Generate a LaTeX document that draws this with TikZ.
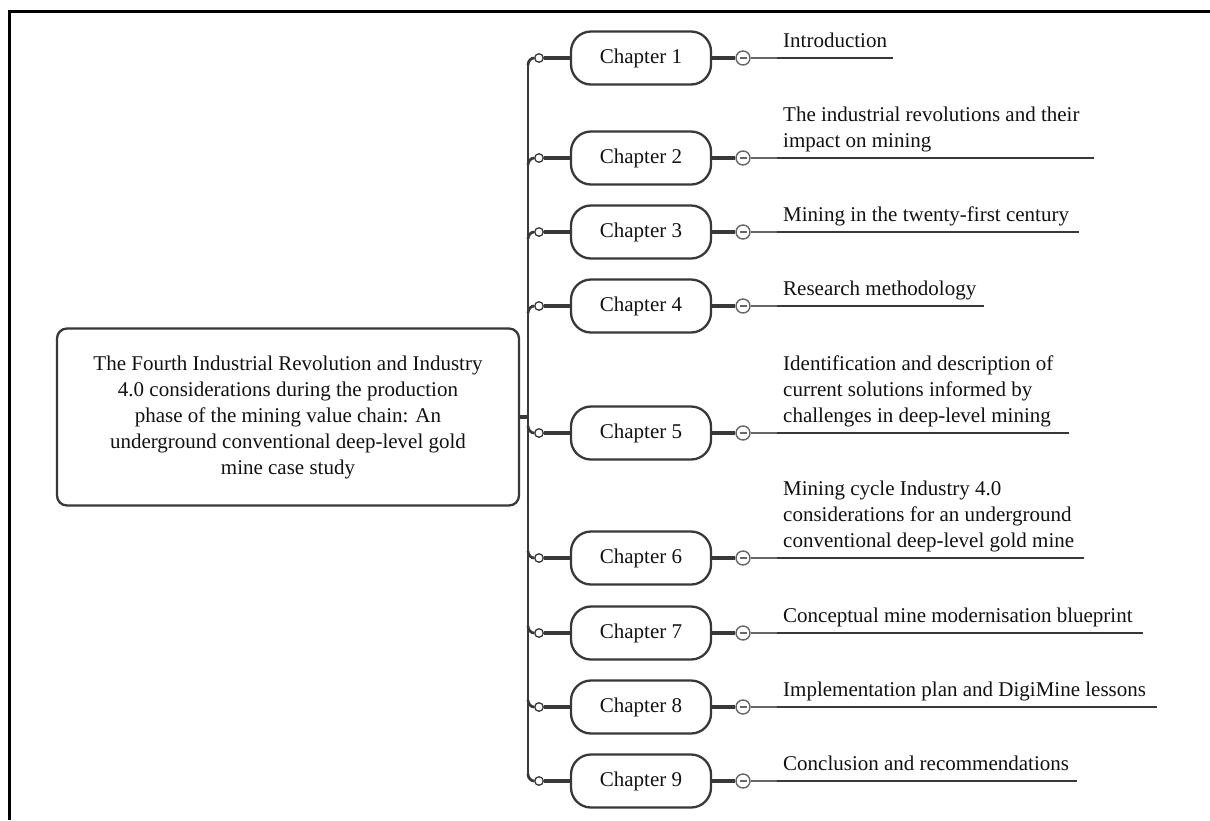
\documentclass[tikz,border=0pt]{standalone}
\usepackage{fontspec}
\setmainfont{Liberation Serif}
\definecolor{linecol}{HTML}{383838}
\definecolor{foldcol}{HTML}{666666}
\definecolor{textcol}{HTML}{111111}
\tikzset{
  txt/.style={font=\fontsize{21}{26}\selectfont, text=textcol},
  rootbox/.style={txt, draw=linecol, line width=2.3pt, rounded corners=10pt,
    minimum width=462pt, minimum height=177pt, align=center, inner sep=0pt},
  chapbox/.style={txt, draw=linecol, line width=2.3pt, rounded corners=20pt,
    minimum width=140pt, minimum height=53pt, inner sep=0pt},
  dotnode/.style={circle, draw=linecol, fill=white, minimum size=8.5pt,
    inner sep=0pt, line width=1.3pt},
  foldnode/.style={circle, draw=foldcol, fill=white, minimum size=14pt,
    inner sep=0pt, line width=1.4pt,
    path picture={\draw[foldcol, line width=1.3pt]
      ([xshift=3.5pt]path picture bounding box.west) --
      ([xshift=-3.5pt]path picture bounding box.east);}},
  topicnode/.style={txt, anchor=south west, align=left, inner xsep=6pt, inner ysep=2.2pt},
  trunkln/.style={draw=linecol, line width=2.7pt},
  connln/.style={draw=linecol, line width=3.2pt},
  thinln/.style={draw=foldcol, line width=1.4pt},
  uline/.style={draw=linecol, line width=2.8pt},
  ulinethin/.style={draw=linecol, line width=1.8pt},
}
\begin{document}
\begin{tikzpicture}[x=1pt, y=-1pt]
\useasboundingbox (0,0) rectangle (1210,820);
% frame (top and left edges)
\coordinate (fbl) at (9.5,820);
\coordinate (ftl) at (9.5,11.5);
\coordinate (ftr) at (1210,11.5);
\draw[black, line width=2.2pt] (fbl) -- (ftl) -- (ftr);

% root
\node[rootbox] (root) at (288,417) {The Fourth Industrial Revolution and Industry\\4.0 considerations during the production\\phase of the mining value chain: An\\underground conventional deep-level gold\\mine case study};

% trunk
\coordinate (ttop) at (528,65);
\coordinate (tbot) at (528,774);
\draw[trunkln] (ttop) -- (tbot);
\draw[connln] (root.east) -- (root.east -| ttop);

% chapters
\node[dotnode] (d1) at (539,58) {};
\node[chapbox] (c1) at (641,58) {Chapter 1};
\node[foldnode] (m1) at (743,58) {};
\node[topicnode] (t1) at (777,58) {Introduction\strut};

\node[dotnode] (d2) at (539,158) {};
\node[chapbox] (c2) at (641,158) {Chapter 2};
\node[foldnode] (m2) at (743,158) {};
\node[topicnode] (t2) at (777,158) {The industrial revolutions and their\\impact on mining\strut};

\node[dotnode] (d3) at (539,232) {};
\node[chapbox] (c3) at (641,232) {Chapter 3};
\node[foldnode] (m3) at (743,232) {};
\node[topicnode] (t3) at (777,232) {Mining in the twenty-first century\strut};

\node[dotnode] (d4) at (539,306) {};
\node[chapbox] (c4) at (641,306) {Chapter 4};
\node[foldnode] (m4) at (743,306) {};
\node[topicnode] (t4) at (777,306) {Research methodology\strut};

\node[dotnode] (d5) at (539,433) {};
\node[chapbox] (c5) at (641,433) {Chapter 5};
\node[foldnode] (m5) at (743,433) {};
\node[topicnode] (t5) at (777,433) {Identification and description of\\current solutions informed by\\challenges in deep-level mining\strut};

\node[dotnode] (d6) at (539,558) {};
\node[chapbox] (c6) at (641,558) {Chapter 6};
\node[foldnode] (m6) at (743,558) {};
\node[topicnode] (t6) at (777,558) {Mining cycle Industry 4.0\\considerations for an underground\\conventional deep-level gold mine\strut};

\node[dotnode] (d7) at (539,633) {};
\node[chapbox] (c7) at (641,633) {Chapter 7};
\node[foldnode] (m7) at (743,633) {};
\node[topicnode] (t7) at (777,633) {Conceptual mine modernisation blueprint\strut};

\node[dotnode] (d8) at (539,707) {};
\node[chapbox] (c8) at (641,707) {Chapter 8};
\node[foldnode] (m8) at (743,707) {};
\node[topicnode] (t8) at (777,707) {Implementation plan and DigiMine lessons\strut};

\node[dotnode] (d9) at (539,781) {};
\node[chapbox] (c9) at (641,781) {Chapter 9};
\node[foldnode] (m9) at (743,781) {};
\node[topicnode] (t9) at (777,781) {Conclusion and recommendations\strut};

% branch curves from trunk to dots
\foreach \n/\yy in {1/58,2/158,3/232,4/306}{
  \draw[trunkln] (528,\yy+7) .. controls (528,\yy+3) and (531,\yy) .. (d\n.west);
}
\foreach \n/\yy in {5/433,6/558,7/633,8/707,9/781}{
  \draw[trunkln] (528,\yy-7) .. controls (528,\yy-3) and (531,\yy) .. (d\n.west);
}

% connectors dot -> chapter -> fold -> topic
\foreach \n in {1,...,9}{
  \draw[connln] (d\n) -- (c\n);
  \draw[connln] (c\n) -- (m\n);
  \draw[thinln] (m\n) -- (t\n.south west);
}
% underlines
\draw[uline] (t1.south west) -- ++(116,0);
\draw[uline] (t2.south west) -- ++(317,0);
\draw[uline] (t3.south west) -- ++(302,0);
\draw[uline] (t4.south west) -- ++(207,0);
\draw[uline] (t5.south west) -- ++(292,0);
\draw[ulinethin] (t6.south west) -- ++(307,0);
\draw[uline] (t7.south west) -- ++(366,0);
\draw[ulinethin] (t8.south west) -- ++(380,0);
\draw[uline] (t9.south west) -- ++(300,0);
\end{tikzpicture}
\end{document}
